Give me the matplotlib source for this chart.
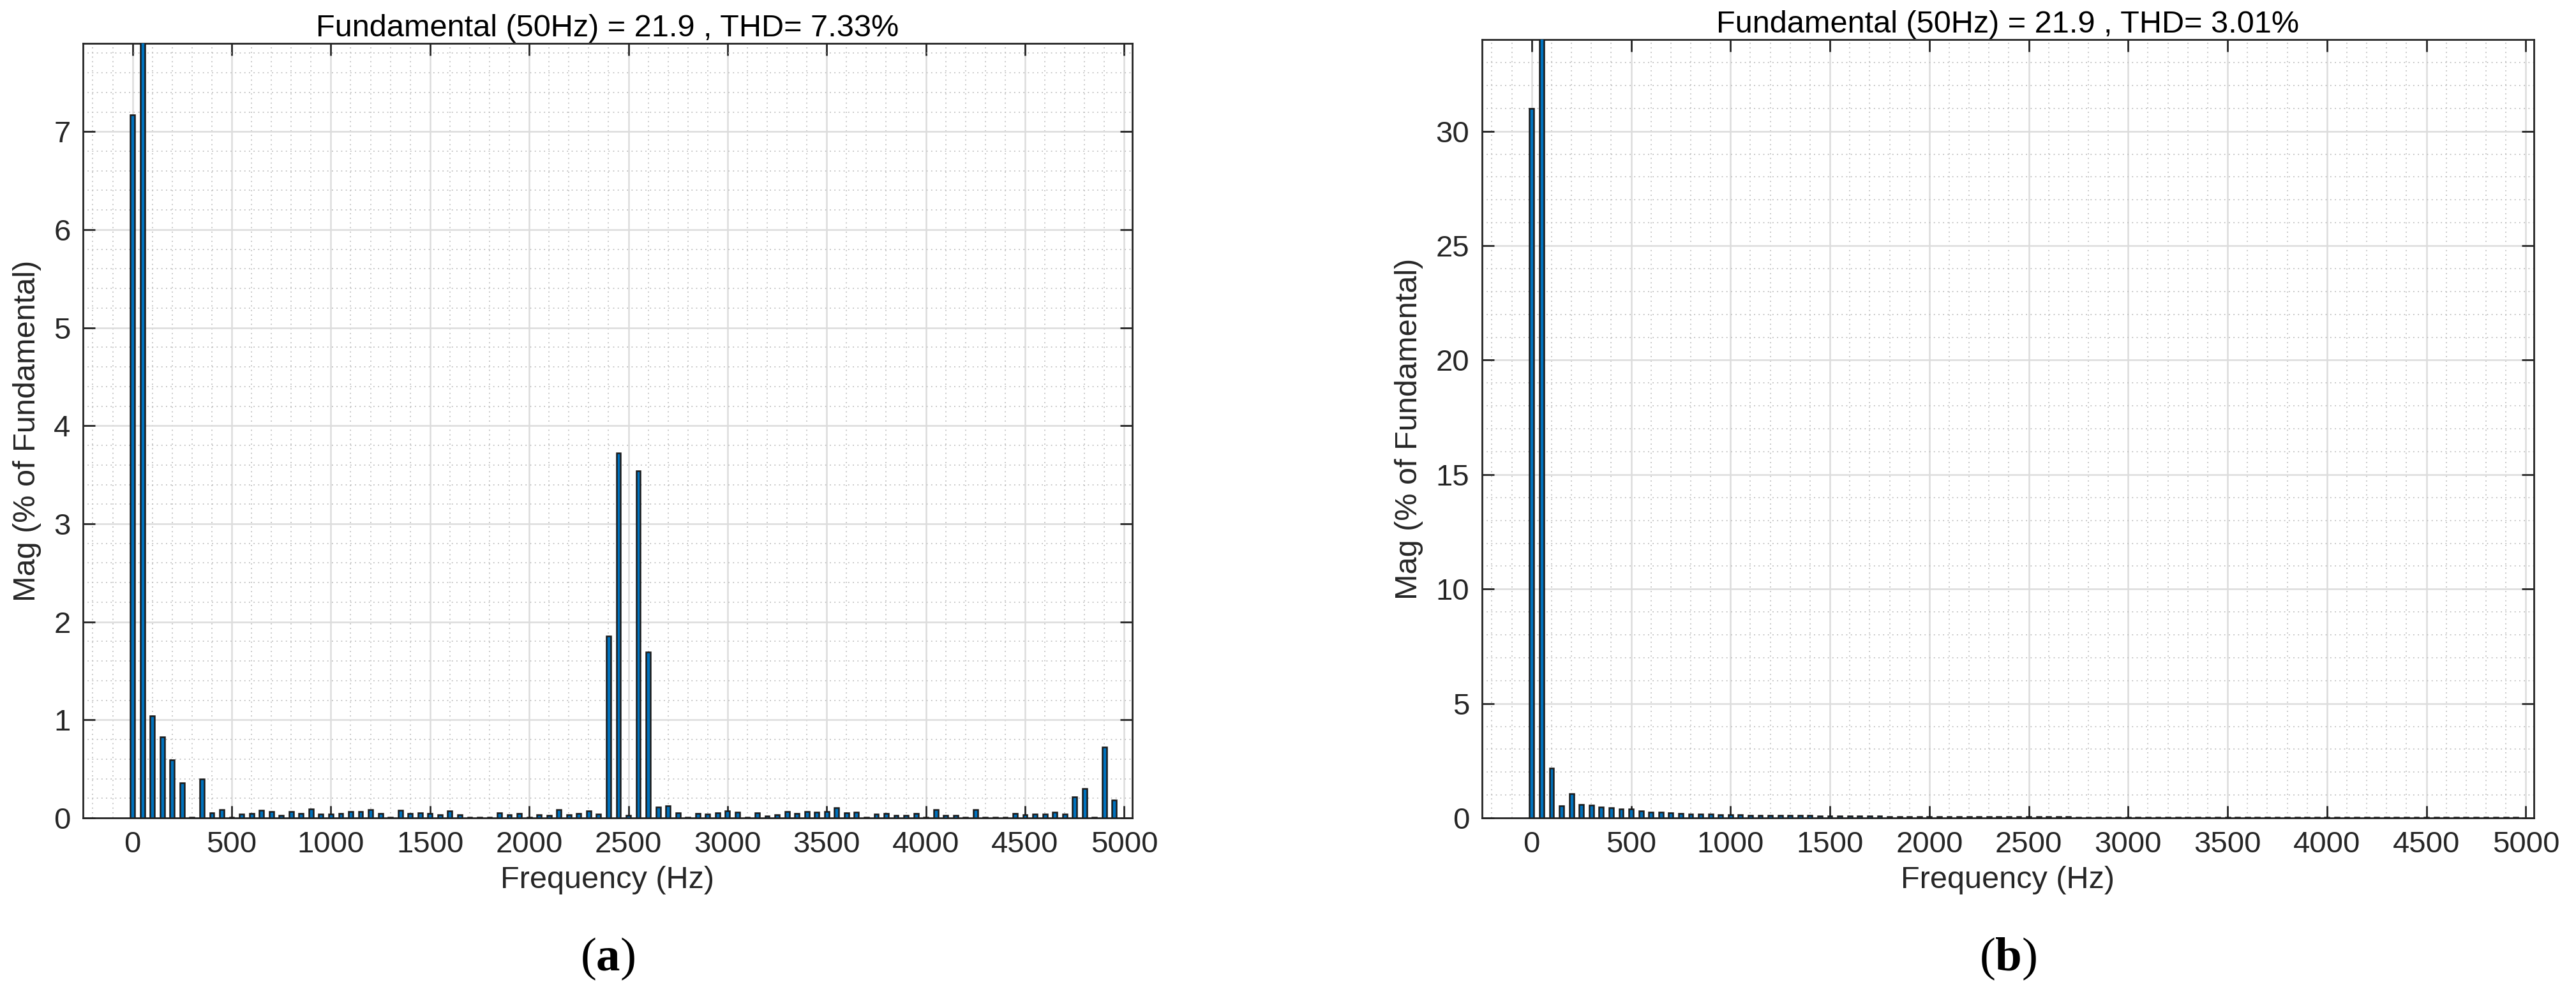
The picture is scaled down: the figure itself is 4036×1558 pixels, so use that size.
import matplotlib
matplotlib.use("Agg")
import matplotlib.pyplot as plt
import numpy as np
from matplotlib.ticker import MultipleLocator

freqs = list(range(0, 5000, 50))

mag_a = [7.17, 100, 1.04, 0.83, 0.595, 0.36, 0.005, 0.40, 0.05, 0.086,
         0.01, 0.04, 0.043, 0.078, 0.065, 0.024, 0.065, 0.043, 0.093, 0.04,
         0.04, 0.045, 0.063, 0.063, 0.088, 0.043, 0.005, 0.078, 0.043, 0.054,
         0.047, 0.03, 0.075, 0.032, 0.005, 0.005, 0.005, 0.05, 0.035, 0.047,
         0.005, 0.035, 0.028, 0.086, 0.03, 0.047, 0.073, 0.04, 1.855, 3.72,
         0.028, 3.54, 1.69, 0.114, 0.125, 0.054, 0.005, 0.043, 0.037, 0.05,
         0.071, 0.056, 0.01, 0.052, 0.02, 0.03, 0.065, 0.043, 0.063, 0.06,
         0.065, 0.105, 0.052, 0.056, 0.005, 0.04, 0.045, 0.028, 0.024, 0.045,
         0.005, 0.086, 0.028, 0.024, 0.01, 0.088, 0.005, 0.005, 0.005, 0.047,
         0.03, 0.037, 0.04, 0.06, 0.04, 0.218, 0.30, 0.005, 0.72, 0.185]

mag_b = [31.0, 100, 2.18, 0.54, 1.05, 0.59, 0.55, 0.48, 0.45, 0.40,
         0.38, 0.31, 0.26, 0.24, 0.23, 0.20, 0.18, 0.17, 0.16, 0.15,
         0.14, 0.13, 0.12, 0.12, 0.11, 0.11, 0.10, 0.10, 0.10, 0.09,
         0.09, 0.09, 0.08, 0.08, 0.08, 0.08, 0.07, 0.07, 0.07, 0.07,
         0.07, 0.06, 0.06, 0.06, 0.06, 0.06, 0.06, 0.05, 0.05, 0.05,
         0.05, 0.05, 0.05, 0.05, 0.05, 0.04, 0.04, 0.04, 0.04, 0.04,
         0.04, 0.04, 0.04, 0.04, 0.04, 0.04, 0.03, 0.03, 0.03, 0.03,
         0.03, 0.03, 0.03, 0.03, 0.03, 0.03, 0.03, 0.03, 0.03, 0.03,
         0.03, 0.03, 0.03, 0.03, 0.03, 0.03, 0.03, 0.03, 0.03, 0.03,
         0.03, 0.03, 0.03, 0.03, 0.03, 0.03, 0.03, 0.03, 0.03, 0.03]

titles = ["Fundamental (50Hz) = 21.9 , THD= 7.33%",
          "Fundamental (50Hz) = 21.9 , THD= 3.01%"]
panel_labels = ["a", "b"]
ylims = [7.9, 34.0]
ymajor = [1, 5]
yminor = [0.2, 1]

plt.rcParams['font.family'] = ['Liberation Sans', 'DejaVu Sans']
plt.rcParams['mathtext.fontset'] = 'custom'
plt.rcParams['mathtext.bf'] = 'Liberation Serif:bold'
plt.rcParams['mathtext.rm'] = 'Liberation Serif'

fig = plt.figure(figsize=(40.36, 15.58), dpi=100)
positions = [[0.0322, 0.1771, 0.4073, 0.7793], [0.5753, 0.1771, 0.4083, 0.7830]]
datasets = [mag_a, mag_b]

for i in range(2):
    ax = fig.add_axes(positions[i])
    ax.bar(freqs, datasets[i], width=22, color='#0072BD', edgecolor='#1a1a1a',
           linewidth=1.8, zorder=3)
    ax.set_xlim(-250, 5040)
    ax.set_ylim(0, ylims[i])
    ax.xaxis.set_major_locator(MultipleLocator(500))
    ax.xaxis.set_minor_locator(MultipleLocator(100))
    ax.yaxis.set_major_locator(MultipleLocator(ymajor[i]))
    ax.yaxis.set_minor_locator(MultipleLocator(yminor[i]))
    ax.grid(which='major', color='#dcdcdc', linewidth=1.8, zorder=0)
    ax.grid(which='minor', color='#c0c0c0', linestyle=(0, (1, 3)), linewidth=1.3, zorder=0)
    ax.tick_params(which='major', direction='in', length=14, width=2, color='#262626',
                   top=True, right=True, labelsize=34, labelcolor='#262626', pad=14)
    ax.tick_params(which='minor', length=0)
    for s in ax.spines.values():
        s.set_color('#262626')
        s.set_linewidth(2)
    ax.set_xlabel("Frequency (Hz)", fontsize=35, color='#262626', labelpad=8)
    ax.set_ylabel("Mag (% of Fundamental)", fontsize=35, color='#262626', labelpad=14)
    ax.set_title(titles[i], fontsize=35, color='black', pad=8)
    ax.set_axisbelow(True)
    cx = positions[i][0] + positions[i][2] / 2
    fig.text(cx, 0.035, r"($\mathbf{%s}$)" % panel_labels[i], ha='center', va='center',
             fontsize=54, family='Liberation Serif')

fig.savefig("out.png", dpi=100, facecolor='white')
